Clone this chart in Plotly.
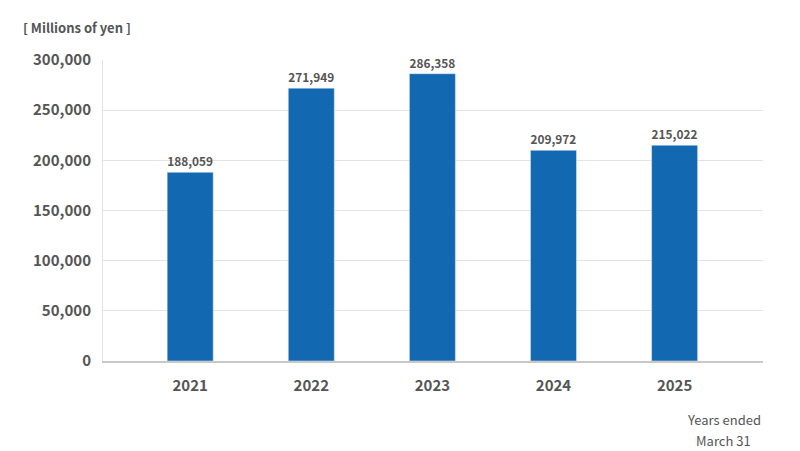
import plotly.graph_objects as go

years = ["2021", "2022", "2023", "2024", "2025"]
values = [188059, 271949, 286358, 209972, 215022]
labels = [f"{v:,}" for v in values]
pos = list(range(len(years)))

font = "Noto Sans CJK JP"
gray = "#555555"
fig = go.Figure(go.Bar(
    x=pos, y=values, text=labels, textposition="outside", width=0.38,
    textfont=dict(size=15, color=gray, family=font, weight=700),
    marker_color="#1369b1", cliponaxis=False,
))
fig.update_layout(
    width=800, height=451, plot_bgcolor="white", paper_bgcolor="white",
    margin=dict(l=95, r=45, t=52, b=98, autoexpand=False), showlegend=False,
    font=dict(family=font, color=gray, size=15),
    xaxis=dict(range=[-0.72, 4.73], tickvals=pos, ticktext=years,
               showline=True, linecolor="#c8c8c8", linewidth=2, showgrid=False,
               tickfont=dict(size=15, color=gray, weight=700), ticks="", ticklabelstandoff=10),
    yaxis=dict(range=[0, 300000], dtick=50000, tickformat=",", showgrid=True,
               gridcolor="#e3e3e3", showline=True, linecolor="#e3e3e3",
               tickfont=dict(size=15, color=gray, weight=700), ticklabelstandoff=8, zeroline=False),
    annotations=[
        dict(text="[ Millions of yen ]", xref="paper", yref="paper", x=-0.125, y=1.07,
             xanchor="left", yanchor="bottom", showarrow=False,
             font=dict(size=13, color=gray, weight=600)),
        dict(text="Years ended", xref="paper", yref="paper", x=1.0, y=-0.155,
             xanchor="right", yanchor="top", showarrow=False,
             font=dict(size=13, color=gray)),
        dict(text="March 31", xref="paper", yref="paper", x=0.985, y=-0.225,
             xanchor="right", yanchor="top", showarrow=False,
             font=dict(size=13, color=gray)),
    ],
)
fig.write_html("out.html")
